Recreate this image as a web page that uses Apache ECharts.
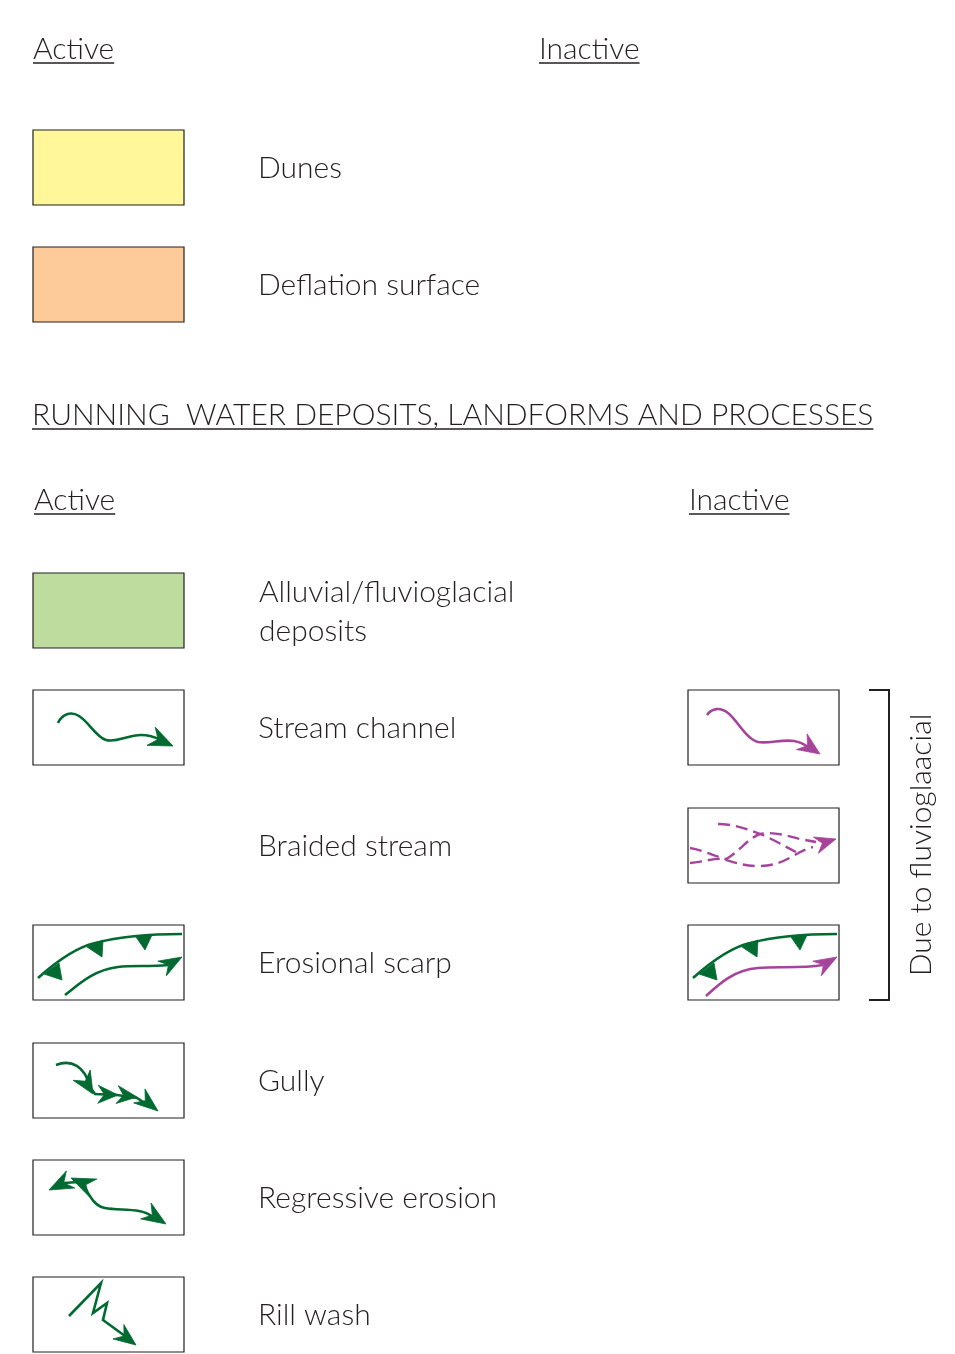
<!DOCTYPE html>
<html>
<head>
<meta charset="utf-8">
<script src="https://cdn.jsdelivr.net/npm/echarts@6/dist/echarts.min.js"></script>
<style>
  html, body { margin: 0; padding: 0; background: #fff; }
  #chart { width: 955px; height: 1354px; }
</style>
</head>
<body>
<div id="chart"></div>
<script>
// legend content
var sectionHeads = ['Active', 'Inactive'];
var runningTitle = 'RUNNING  WATER DEPOSITS, LANDFORMS AND PROCESSES';
var eolianLabels = ['Dunes', 'Deflation surface'];
var eolianSymbols = ['dune', 'deflation'];
var waterLabels = ['Alluvial/fluvioglacial\ndeposits', 'Stream channel', 'Braided stream',
  'Erosional scarp', 'Gully', 'Regressive erosion', 'Rill wash'];
var waterActive = ['alluvial', 'stream', '', 'scarp', 'gully', 'regressive', 'rill'];
var waterInactive = ['', 'stream', 'braided', 'scarp', '', '', ''];
var bracketNote = 'Due to fluvioglaacial';

// layout (page pixels)
var W = 955, H = 1354;
var FONT = 'Lato, "Open Sans", sans-serif';
var FS = 30, FW = 300;
var INK = '#231f20', GREEN = '#006a30', PURPLE = '#a5449b';
var fills = { dune: '#fff799', deflation: '#fdca9a', alluvial: '#bddc9e' };
var boxW = 151, boxH = 75;
var colActive = 33, colLabel = 258, colInactive = 688;
var eolianTop = [130, 247];
var waterTop = [573, 690, 808, 925, 1043, 1160, 1277];
var headRowY = [49, 500];
var headX = [[33, 539], [34, 689]];
var titleY = 415;

var ctx = document.createElement('canvas').getContext('2d');
function textWidth(s, fs) {
  ctx.font = FW + ' ' + fs + 'px ' + FONT;
  return ctx.measureText(s).width;
}

// arrow head: tip, direction angle (deg), length, half width
function head(tx, ty, ang, len, hw, color) {
  var a = ang * Math.PI / 180;
  var dx = Math.cos(a), dy = Math.sin(a);
  var bx = tx - len * dx, by = ty - len * dy;
  var nx = tx - len * 0.68 * dx, ny = ty - len * 0.68 * dy;
  return {
    type: 'polygon',
    shape: { points: [[tx, ty], [bx - hw * dy, by + hw * dx], [nx, ny], [bx + hw * dy, by - hw * dx]] },
    style: { fill: color, stroke: color, lineWidth: 0.8, lineJoin: 'miter' }
  };
}
function line(d, color, dash) {
  return {
    type: 'path',
    shape: { pathData: d },
    style: { fill: null, stroke: color, lineWidth: dash ? 2.4 : 2.6, lineDash: dash ? [12, 6] : null, lineCap: 'butt' }
  };
}
function tooth(pts) {
  return { type: 'polygon', shape: { points: pts }, style: { fill: GREEN, stroke: GREEN, lineWidth: 0.8 } };
}

function glyph(kind, inactive) {
  var c = inactive ? PURPLE : GREEN;
  if (kind === 'stream') {
    if (!inactive) {
      return [line('M25,33 C29,24 38,21 46,26 C56,32 63,47 73,50 C83,53 95,45 108,45 C116,45 122,47 128,50', c),
        head(140, 56, 24, 24, 10, c)];
    }
    return [line('M19,25 C24,18 32,17 40,23 C50,31 58,49 70,52 C80,54 95,49 106,51 C112,52 116,54 120,57', c),
      head(132, 64, 34, 22, 9.5, c)];
  }
  if (kind === 'braided') {
    return [
      line('M30,16 C45,16 60,21 72,26 C85,31 98,39 108,44', c, true),
      line('M2,40 C15,42 28,49 38,51 C50,45 60,30 72,26 C85,23 100,28 112,31 C118,32 122,33 128,34', c, true),
      line('M2,55 C15,54 25,50 35,51 C45,54 55,58 70,58 C85,58 95,54 105,48 C112,44 118,41 125,39', c, true),
      head(148, 31, -17, 21, 8.5, c)
    ];
  }
  if (kind === 'scarp') {
    var low = inactive
      ? 'M18,71 C30,60 45,45 70,43 C90,41 110,44 135,40'
      : 'M32,70 C45,60 60,45 85,42 C100,40 115,42 135,40';
    return [
      line('M5,53 C25,35 45,22 62,18 C85,12 115,9 149,9', GREEN),
      tooth([[11, 49], [26, 38], [29, 55]]),
      tooth([[54, 22], [70, 15], [69, 32]]),
      tooth([[103, 12], [119, 10], [112, 25]]),
      line(low, c),
      head(149, 32, -30, 23, 8.5, c)
    ];
  }
  if (kind === 'gully') {
    return [
      line('M23,22 C38,16 52,23 57,44 L62,51 L84,52 L104,55 L118,64', c),
      head(60, 51, 59, 22, 10, c),
      head(85, 52, 2, 20, 9, c),
      head(104, 54, 7, 20, 9, c),
      head(125, 68, 39, 24, 9, c)
    ];
  }
  if (kind === 'regressive') {
    return [
      line('M30,23 L46,22', c),
      line('M50,25 C56,33 60,46 72,48 C82,50 95,49 106,51 C112,52 116,54 120,57', c),
      head(16, 30, 154, 24, 9.5, c),
      head(38, 18, -156, 24, 9.5, c),
      head(133, 64, 33, 24, 9.5, c)
    ];
  }
  if (kind === 'rill') {
    return [
      line('M36,39 L68,6 L60,36 L74,26 L70,43 L92,59', c),
      head(103, 68, 37, 22, 9, c)
    ];
  }
  return [];
}

// boxes
var boxData = [], boxKinds = [];
eolianSymbols.forEach(function (k, i) {
  boxData.push([colActive, eolianTop[i]]); boxKinds.push({ kind: k, inactive: false });
});
waterActive.forEach(function (k, i) {
  if (k) { boxData.push([colActive, waterTop[i]]); boxKinds.push({ kind: k, inactive: false }); }
});
waterInactive.forEach(function (k, i) {
  if (k) { boxData.push([colInactive, waterTop[i]]); boxKinds.push({ kind: k, inactive: true }); }
});

// texts
var textData = [], textItems = [];
function addText(x, y, s, opt) {
  textData.push([x, y]);
  textItems.push(Object.assign({ text: s }, opt || {}));
}
sectionHeads.forEach(function (s, j) {
  addText(headX[0][j], headRowY[0], s, { underline: true });
});
eolianLabels.forEach(function (s, i) { addText(colLabel, eolianTop[i] + boxH / 2 + 1, s); });
addText(32, titleY, runningTitle, { underline: true });
sectionHeads.forEach(function (s, j) {
  addText(headX[1][j], headRowY[1], s, { underline: true });
});
waterLabels.forEach(function (s, i) { addText(colLabel + (i === 0 ? 1 : 0), waterTop[i] + boxH / 2 + 1, s); });

// bracket around the three fluvioglacial rows
var bracketRows = [1, 3];
var bracketData = [[889, waterTop[bracketRows[0]], waterTop[bracketRows[1]] + boxH]];

var chart = echarts.init(document.getElementById('chart'), null, { renderer: 'canvas' });
chart.setOption({
  backgroundColor: '#fff',
  animation: false,
  grid: { left: 0, right: 0, top: 0, bottom: 0 },
  xAxis: { type: 'value', min: 0, max: W, show: false },
  yAxis: { type: 'value', min: 0, max: H, inverse: true, show: false },
  series: [
    {
      type: 'custom',
      name: 'boxes',
      clip: false,
      data: boxData,
      renderItem: function (params, api) {
        var p = api.coord([api.value(0), api.value(1)]);
        var q = api.coord([api.value(0) + boxW, api.value(1) + boxH]);
        var k = boxKinds[params.dataIndex];
        var children = [{
          type: 'rect',
          shape: { x: 0, y: 0, width: q[0] - p[0], height: q[1] - p[1] },
          style: { fill: fills[k.kind] || '#fff', stroke: INK, lineWidth: 1.2 }
        }];
        if (!fills[k.kind]) children = children.concat(glyph(k.kind, k.inactive));
        return { type: 'group', x: p[0], y: p[1], children: children };
      }
    },
    {
      type: 'custom',
      name: 'texts',
      clip: false,
      data: textData,
      renderItem: function (params, api) {
        var p = api.coord([api.value(0), api.value(1)]);
        var t = textItems[params.dataIndex];
        var children = [{
          type: 'text',
          style: {
            text: t.text, x: 0, y: 0, fill: INK, fontSize: FS, fontWeight: FW, fontFamily: FONT,
            align: 'left', verticalAlign: 'middle', lineHeight: 39
          }
        }];
        if (t.underline) {
          children.push({
            type: 'line',
            shape: { x1: 0, y1: 14, x2: textWidth(t.text, FS), y2: 14 },
            style: { stroke: INK, lineWidth: 1.3 }
          });
        }
        return { type: 'group', x: p[0], y: p[1], children: children };
      }
    },
    {
      type: 'custom',
      name: 'bracket',
      clip: false,
      data: bracketData,
      renderItem: function (params, api) {
        var top = api.coord([api.value(0), api.value(1)]);
        var bot = api.coord([api.value(0), api.value(2)]);
        return {
          type: 'group',
          children: [
            {
              type: 'polyline',
              shape: { points: [[top[0] - 20, top[1]], [top[0], top[1]], [bot[0], bot[1]], [bot[0] - 20, bot[1]]] },
              style: { fill: null, stroke: INK, lineWidth: 2 }
            },
            {
              type: 'text',
              x: top[0] + 32, y: (top[1] + bot[1]) / 2,
              rotation: Math.PI / 2,
              style: {
                text: bracketNote, x: 0, y: 0, fill: INK, fontSize: FS, fontWeight: FW, fontFamily: FONT,
                align: 'center', verticalAlign: 'middle'
              }
            }
          ]
        };
      }
    }
  ]
});
</script>
</body>
</html>
